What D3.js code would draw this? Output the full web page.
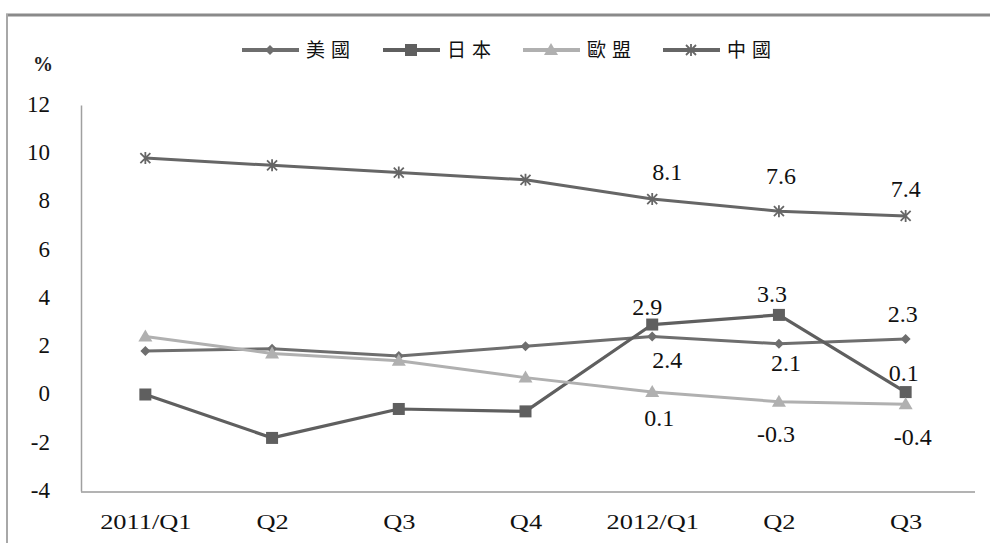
<!doctype html>
<html lang="zh-Hant">
<head>
<meta charset="utf-8">
<title>GDP growth</title>
<script src="https://cdn.jsdelivr.net/npm/d3@7"></script>
<style>
  body { margin: 0; background: #fff; }
  svg { display: block; }
</style>
</head>
<body>
<div id="chart"></div>
<script>
// quarters (the trailing spaces keep the repeated Q2/Q3 distinct for the scale)
var quarters = ["2011/Q1", "Q2", "Q3", "Q4", "2012/Q1", "Q2 ", "Q3 "];
var quarterLabels = ["2011/Q1", "Q2", "Q3", "Q4", "2012/Q1", "Q2", "Q3"];

// growth rates, %
var usa   = [1.8, 1.9, 1.6, 2.0, 2.4, 2.1, 2.3];
var japan = [0.0, -1.8, -0.6, -0.7, 2.9, 3.3, 0.1];
var eu    = [2.4, 1.7, 1.4, 0.7, 0.1, -0.3, -0.4];
var china = [9.8, 9.5, 9.2, 8.9, 8.1, 7.6, 7.4];

var seriesNames = ["美國", "日本", "歐盟", "中國"];
var yTicks = [-4, -2, 0, 2, 4, 6, 8, 10, 12];

// which points carry a value label (last three quarters)
var labelIdx = [4, 5, 6];

var SERIF = "Liberation Serif, Times New Roman, serif";
var W = 990, H = 543;
var svg = d3.select("#chart").append("svg")
  .attr("width", W).attr("height", H);

// hyphen instead of unicode minus, like the original
function fmt1(d) { return (d < 0 ? "-" : "") + Math.abs(d).toFixed(1); }
function fmt0(d) { return (d < 0 ? "-" : "") + Math.abs(d); }

// outer frame (only top and left visible)
svg.append("line").attr("x1", 6).attr("x2", W).attr("y1", 15).attr("y2", 15)
  .attr("stroke", "#8a8a8a").attr("stroke-width", 3);
svg.append("line").attr("x1", 7).attr("x2", 7).attr("y1", 14).attr("y2", H)
  .attr("stroke", "#a8a8a8").attr("stroke-width", 2);

var x = d3.scalePoint().domain(quarters).range([82, 969]).padding(0.5);
var y = d3.scaleLinear().domain([-4, 12]).range([491, 105]);

// y axis
var yAxis = svg.append("g")
  .attr("transform", "translate(81,0)")
  .call(d3.axisLeft(y).tickValues(yTicks).tickSize(0).tickPadding(31).tickFormat(fmt0));
yAxis.attr("font-family", SERIF).attr("font-size", 23);
yAxis.select(".domain").attr("stroke", "#a0a0a0").attr("stroke-width", 1.5);
yAxis.selectAll("text").attr("fill", "#111").attr("dy", "0.28em");

// x axis
var xAxis = svg.append("g")
  .attr("transform", "translate(0,492)")
  .call(d3.axisBottom(x).tickSize(0).tickPadding(21).tickFormat(function (d, i) { return quarterLabels[i]; }));
xAxis.attr("font-family", SERIF).attr("font-size", 22);
xAxis.select(".domain").attr("d", "M81,0H975").attr("stroke", "#9a9a9a").attr("stroke-width", 1.5);
xAxis.selectAll("text").attr("fill", "#111").attr("transform", "scale(1.2,1)");

svg.append("text").attr("x", 43).attr("y", 71).attr("text-anchor", "middle")
  .attr("font-family", SERIF).attr("font-size", 20).attr("font-weight", "bold").attr("fill", "#222")
  .text("%");

var line = d3.line().x(function (d, i) { return x(quarters[i]); }).y(function (d) { return y(d); });

// marker drawers
function diamond(g, c) { g.append("path").attr("d", "M0,-5L5,0L0,5L-5,0Z").attr("fill", c); }
function square(g, c) { g.append("rect").attr("x", -6).attr("y", -6).attr("width", 12).attr("height", 12).attr("fill", c); }
function triangle(g, c) { g.append("path").attr("d", "M0,-7L7,5L-7,5Z").attr("fill", c); }
function star(g, c) {
  g.append("path").attr("d", "M-5,-5L5,5M-5,5L5,-5M0,-6V6")
    .attr("stroke", c).attr("stroke-width", 1.8).attr("fill", "none");
}

var series = [
  { name: seriesNames[0], vals: usa,   color: "#6e6e6e", w: 3,   mark: diamond },
  { name: seriesNames[1], vals: japan, color: "#5f5f5f", w: 3.2, mark: square },
  { name: seriesNames[2], vals: eu,    color: "#b0b0b0", w: 3,   mark: triangle },
  { name: seriesNames[3], vals: china, color: "#666666", w: 3,   mark: star }
];

series.forEach(function (s) {
  svg.append("path").datum(s.vals).attr("d", line)
    .attr("fill", "none").attr("stroke", s.color).attr("stroke-width", s.w)
    .attr("stroke-linejoin", "round");
});
series.forEach(function (s) {
  s.vals.forEach(function (v, i) {
    var g = svg.append("g").attr("transform", "translate(" + x(quarters[i]) + "," + y(v) + ")");
    s.mark(g, s.color);
  });
});

// value label offsets [dx, dy] per series, per labelled point
var offs = [
  [[15, 31], [7, 27], [-3, -17]],
  [[-5, -10], [-7, -13], [-2, -11]],
  [[7, 34], [-3, 40], [7, 41]],
  [[15, -19], [2, -27], [0, -19]]
];
series.forEach(function (s, si) {
  labelIdx.forEach(function (i, k) {
    svg.append("text").attr("text-anchor", "middle")
      .attr("font-family", SERIF).attr("font-size", 24).attr("fill", "#111")
      .attr("x", x(quarters[i]) + offs[si][k][0])
      .attr("y", y(s.vals[i]) + offs[si][k][1])
      .text(fmt1(s.vals[i]));
  });
});

// legend
var legX = [242, 383, 523, 663];
series.forEach(function (s, i) {
  var g = svg.append("g").attr("transform", "translate(" + legX[i] + ",50)");
  g.append("line").attr("x1", 0).attr("x2", 57).attr("stroke", s.color).attr("stroke-width", 4);
  var m = g.append("g").attr("transform", "translate(28,0)");
  s.mark(m, s.color);
  g.append("text").attr("x", 64).attr("y", 7)
    .attr("font-family", "Noto Sans CJK TC, sans-serif").attr("font-size", 19)
    .attr("letter-spacing", 6).attr("fill", "#111")
    .text(s.name);
});
</script>
</body>
</html>
